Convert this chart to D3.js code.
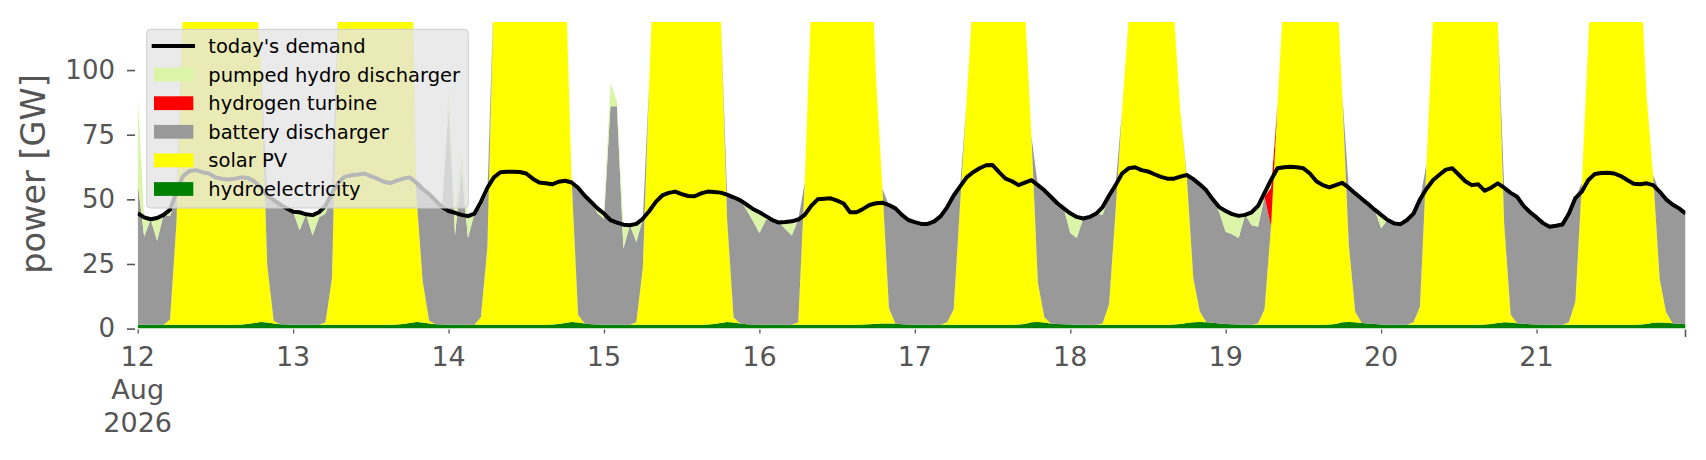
<!DOCTYPE html>
<html><head><meta charset="utf-8">
<script src="https://cdn.jsdelivr.net/npm/d3@7"></script>
<style>
html,body{margin:0;padding:0;background:#fff;}
svg{display:block;font-family:"DejaVu Sans",sans-serif;}
</style></head><body>
<svg id="chart" width="1706" height="460"></svg>
<script>
// hourly values, 12 Aug 2026 00:00 .. 21 Aug 2026 23:00 (one line per day)
const dayLabels = ["12","13","14","15","16","17","18","19","20","21"];
const monthLabel = "Aug", yearLabel = "2026";
const yTicks = [0,25,50,75,100];

const demand = [
44.6,43,42.3,42.8,44,46,53,59,61,61.3,60.5,60,58.5,58,57.7,58,58.5,58.3,57,54.5,51.5,49.7,48,46.5,
45.2,45,44.2,43.9,45,47.5,52.5,56.5,58.8,59.3,59.6,60,59,58,56.8,56.3,57.2,58,58.5,56.5,54,52,49.5,47,
45.5,44.8,44,43.5,44.5,49,54.5,58.5,60.5,60.7,60.7,60.6,60,58,56.5,56.2,55.8,56.8,57.2,56.5,54.5,51.5,49,46.5,
44.5,42,41,40.2,40,40.5,42.5,45.5,49,51.5,52.5,53,52,51.3,51.2,52.3,53,52.8,52.6,51.8,50.8,49.7,48,46.3,
45,43.5,42,41,41.2,41.5,42.2,44,47.5,50,50.2,50.4,49.5,48.4,45,45,46.3,47.8,48.5,48.7,47.8,46.5,44,42,
41.2,40.5,40.5,41.5,43.5,47,51.5,55,58.5,60.5,62,63.2,63.3,60.5,58,57,55.5,56.5,57.4,55.5,53.5,51,48.5,46.5,
44.6,43.2,42.6,43.2,44.5,47,51.5,55.5,60,62,62.4,61.3,60.8,59.7,58.7,58,58,58.8,59.4,57.8,55.8,53.5,50,47,
45.5,44.3,43.6,44,45,47.5,52.5,57.5,62,62.4,62.6,62.4,62,60,57,55.5,54.6,55.5,56.4,54.5,52.3,50.2,48.2,46,
44,42,40.7,40.4,42,44.5,50,54,57.4,59.5,61.5,62,59.5,57,55.5,55.8,53.3,54.5,56.2,54.5,52.5,51,47.5,45,
43,40.8,39.4,39.8,40.3,44.5,50.5,53,57.5,59.8,60.2,60.3,60,59,57.5,56,55.8,56.2,55.5,53,50,48,46.5,44.6
];

const hydro = [
1.5,1.5,1.5,1.5,1.5,1.5,1.5,1.5,1.5,1.5,1.5,1.5,1.5,1.5,1.5,1.5,1.6,1.8,2.2,2.6,2.4,2.0,1.7,1.6,
1.5,1.5,1.5,1.5,1.5,1.5,1.5,1.5,1.5,1.5,1.5,1.5,1.5,1.5,1.5,1.5,1.6,1.8,2.2,2.6,2.4,2.0,1.7,1.6,
1.5,1.5,1.5,1.5,1.5,1.5,1.5,1.5,1.5,1.5,1.5,1.5,1.5,1.5,1.5,1.5,1.6,1.8,2.2,2.6,2.4,2.0,1.7,1.6,
1.5,1.5,1.5,1.5,1.5,1.5,1.5,1.5,1.5,1.5,1.5,1.5,1.5,1.5,1.5,1.5,1.6,1.8,2.2,2.6,2.4,2.0,1.7,1.6,
1.5,1.5,1.5,1.5,1.5,1.5,1.5,1.5,1.5,1.5,1.5,1.5,1.5,1.5,1.5,1.5,1.6,1.7,1.9,2.0,2.0,2.0,1.7,1.6,
1.5,1.5,1.5,1.5,1.5,1.5,1.5,1.5,1.5,1.5,1.5,1.5,1.5,1.5,1.5,1.5,1.6,1.8,2.5,2.6,2.4,2.0,1.8,1.7,
1.6,1.5,1.5,1.5,1.5,1.5,1.5,1.5,1.5,1.5,1.5,1.5,1.5,1.5,1.5,1.5,1.6,1.8,2.2,2.5,2.6,2.5,2.3,2.0,
1.8,1.7,1.6,1.5,1.5,1.5,1.5,1.5,1.5,1.5,1.5,1.5,1.5,1.5,1.5,1.5,1.6,1.8,2.5,2.6,2.5,2.2,2.0,1.8,
1.6,1.5,1.5,1.5,1.5,1.5,1.5,1.5,1.5,1.5,1.5,1.5,1.5,1.5,1.5,1.5,1.6,1.8,2.2,2.5,2.4,2.1,1.9,1.7,
1.6,1.5,1.5,1.5,1.5,1.5,1.5,1.5,1.5,1.5,1.5,1.5,1.5,1.5,1.5,1.5,1.6,1.8,2.3,2.4,2.3,2.1,1.9,1.7
];

const solar = [
0,0,0,0,0,2,40,125,210,255,285,300,305,295,275,245,210,175,140,100,22,1,0,0,
0,0,0,0,0,1,18,125,210,255,285,300,300,290,270,245,235,225,190,50,16,1,0,0,
0,0,0,0,0,3,30,130,215,260,290,305,305,295,275,250,215,180,140,55,3,0,0,0,
0,0,0,0,0,1,22,95,160,230,270,290,295,285,265,235,200,165,122,40,2,0,0,0,
0,0,0,0,0,0,1,55,125,200,250,275,280,270,245,210,185,160,95,52,6,0,0,0,
0,0,0,0,0,1,6,47,87,128,200,245,260,250,225,195,165,122,72,15,2,0,0,0,
0,0,0,0,0,0.5,8,44,83,118,170,215,235,225,195,160,120,82,56,17,4,0,0,0,
0,0,0,0,0,0.5,6,38,85,130,200,260,285,275,250,215,175,140,88,30,4,0,0,0,
0,0,0,0,0,1,7,62,118,180,240,270,280,270,245,215,190,170,118,38,3,0,0,0,
0,0,0,0,0,1,9,55,110,165,225,260,270,255,220,175,140,88,57,17,4,0,0,0
];

const battery = [
55,34,40.8,32.5,42.5,40,9.5,0,0,0,0,0,0,0,0,0,0,0,0,0,27.1,46.7,46.3,44.9,
43.7,36.5,42.7,34.5,41.5,42,32,0,0,0,0,0,0,0,0,0,0,0,0,3.9,35.6,49,47.8,45.4,
84,34.5,60,33.5,43,42.5,21,0,0,0,0,0,0,0,0,0,0,0,0,0,49.1,49.5,47.3,43,
41,84.5,84.5,29.5,38.5,31,19,0,0,0,0,0,0,0,0,0,0,0,0,9.2,46.4,47.7,44.3,40,
35.5,40.5,40.5,39.5,37,34.5,39.7,0,0,0,0,0,0,0,0,0,0,0,0,0,39.8,44.5,42.3,40.4,
39.7,39,39,40,42,44.5,44,6.5,0,0,0,0,0,0,0,0,0,0,0,37.9,49.1,49,46.7,44.8,
35.4,33.5,41.1,41.7,43,42,42,10,0,0,0,0,0,0,0,0,0,0,1.2,38.3,49.2,51,47.7,43,
35.7,34.8,33.4,42.5,38.5,37.4,43.5,0,0,0,0,0,0,0,0,0,0,0,0,21.9,45.8,48,46.2,44.2,
37.2,40.5,39.2,38.9,40.5,42,41.5,0,0,0,0,0,0,0,0,0,0,0,0,14,47.1,48.9,45.6,43.3,
41.4,39.3,37.9,38.3,38.8,42,40,0,0,0,0,0,0,0,0,0,0,0,0,33.6,43.7,45.9,44.6,42.9
];

const hydrogen = [
0,0,0,0,0,0,0,0,0,0,0,0,0,0,0,0,0,0,0,0,0,0,0,0,
0,0,0,0,0,0,0,0,0,0,0,0,0,0,0,0,0,0,0,0,0,0,0,0,
0,0,0,0,0,0,0,0,0,0,0,0,0,0,0,0,0,0,0,0,0,0,0,0,
0,0,0,0,0,0,0,0,0,0,0,0,0,0,0,0,0,0,0,0,0,0,0,0,
0,0,0,0,0,0,0,0,0,0,0,0,0,0,0,0,0,0,0,0,0,0,0,0,
0,0,0,0,0,0,0,0,0,0,0,0,0,0,0,0,0,0,0,0,0,0,0,0,
0,0,0,0,0,0,0,0,0,0,0,0,0,0,0,0,0,0,0,0,0,0,0,0,
0,0,0,0,0,0,0,15,0,0,0,0,0,0,0,0,0,0,0,0,0,0,0,0,
0,0,0,0,0,0,0,0,0,0,0,0,0,0,0,0,0,0,0,0,0,0,0,0,
0,0,0,0,0,0,0,0,0,0,0,0,0,0,0,0,0,0,0,0,0,0,0,0
];

const pumped = [
34,7.5,0,8.8,0,2.5,2,0,0,0,0,0,0,0,0,0,0,0,0,0,0,0,0,0,
0,7,0,7.9,2,3,1,0,0,0,0,0,0,0,0,0,0,0,0,0,0,0,0,0,
7,8.8,7,8.5,0,2,2,0,0,0,0,0,0,0,0,0,0,0,0,0,0,0,0,1.9,
2,9,2,9.2,0,7,0,0,0,0,0,0,0,0,0,0,0,0,0,0,0,0,2,4.7,
8,1.5,0,0,2.7,5.5,0,0,0,0,0,0,0,0,0,0,0,0,0,0,0,0,0,0,
0,0,0,0,0,0,0,0,0,0,0,0,0,0,0,0,0,0,0,0,0,0,0,0,
7.6,8.2,0,0,0,3,0,0,0,0,0,0,0,0,0,0,0,0,0,0,0,0,0,2,
8,7.8,8.6,0,5,8.1,3,3,0,0,0,0,0,0,0,0,0,0,0,0,0,0,0,0,
5.2,0,0,0,0,0,0,0,0,0,0,0,0,0,0,0,0,0,0,0,0,0,0,0,
0,0,0,0,0,0,0,0,0,0,0,0,0,0,0,0,0,0,0,0,0,0,0,0
];

// ---- layout ----
const plot = {left: 137.7, right: 1685.5, top: 22, bottom: 328.6};
const svg = d3.select("#chart");

const t0 = Date.UTC(2026, 7, 12, 0, 0);
const times = demand.map((_, i) => new Date(t0 + i * 3600e3));
const x = d3.scaleUtc().domain([times[0], times[times.length - 1]]).range([plot.left, plot.right]);
const y = d3.scaleLinear().domain([0, 118.6]).range([plot.bottom, plot.top]);

const series = [
  {key: "hydro", label: "hydroelectricity", color: "#008000", values: hydro},
  {key: "solar", label: "solar PV", color: "#ffff00", values: solar},
  {key: "battery", label: "battery discharger", color: "#999999", values: battery},
  {key: "hydrogen", label: "hydrogen turbine", color: "#ff0000", values: hydrogen},
  {key: "pumped", label: "pumped hydro discharger", color: "#daf5a8", values: pumped}
];

const rows = times.map((t, i) => {
  const r = {t};
  series.forEach(s => r[s.key] = s.values[i]);
  return r;
});
const stacked = d3.stack().keys(series.map(s => s.key))(rows);

svg.append("clipPath").attr("id", "clip")
  .append("rect").attr("x", plot.left).attr("y", plot.top)
  .attr("width", plot.right - plot.left).attr("height", plot.bottom - plot.top);

const area = d3.area().x(d => x(d.data.t)).y0(d => y(d[0])).y1(d => y(d[1]));
const gA = svg.append("g").attr("clip-path", "url(#clip)");
stacked.forEach((layer, k) => {
  gA.append("path").attr("d", area(layer)).attr("fill", series[k].color);
});

const line = d3.line().x((d, i) => x(times[i])).y(d => y(d));
gA.append("path").attr("d", line(demand)).attr("fill", "none")
  .attr("stroke", "#000").attr("stroke-width", 4).attr("stroke-linejoin", "round");

// ---- y axis ----
const yAxis = d3.axisLeft(y).tickValues(yTicks).tickSize(8).tickPadding(12);
const gy = svg.append("g").attr("transform", "translate(135,0)").call(yAxis);
gy.select(".domain").remove();
gy.selectAll(".tick line").attr("stroke", "#555").attr("stroke-width", 1.6);
gy.selectAll(".tick text").attr("fill", "#555").style("font-size", "26px")
  .style("font-family", "DejaVu Sans, sans-serif");

svg.append("text").attr("transform", "translate(45,174) rotate(-90)")
  .attr("text-anchor", "middle").attr("fill", "#555").style("font-size", "33.5px")
  .text("power [GW]");

// ---- x axis ----
const dayDates = dayLabels.map((_, i) => new Date(t0 + i * 24 * 3600e3));
const xAxis = d3.axisBottom(x).tickValues(dayDates).tickSize(4).tickFormat("");
const gx = svg.append("g").attr("transform", "translate(0,329.5)").call(xAxis);
gx.select(".domain").remove();
gx.selectAll(".tick line").attr("stroke", "#555").attr("stroke-width", 1.3);
svg.append("line").attr("x1", x(times[times.length - 1])).attr("x2", x(times[times.length - 1]))
  .attr("y1", 329.5).attr("y2", 337).attr("stroke", "#555").attr("stroke-width", 1.6);

const xl = svg.append("g").attr("fill", "#555").style("font-size", "27px").attr("text-anchor", "middle");
dayDates.forEach((d, i) => {
  xl.append("text").attr("x", x(d)).attr("y", 366).text(dayLabels[i]);
});
xl.append("text").attr("x", x(dayDates[0])).attr("y", 399).text(monthLabel);
xl.append("text").attr("x", x(dayDates[0])).attr("y", 432).text(yearLabel);

// ---- legend ----
const lg = svg.append("g");
lg.append("rect").attr("x", 146.7).attr("y", 29.3).attr("width", 321.6).attr("height", 178.7)
  .attr("rx", 4).attr("fill", "#e5e5e5").attr("fill-opacity", 0.8)
  .attr("stroke", "#cccccc").attr("stroke-width", 1);
const legendItems = [{label: "today's demand", type: "line", color: "#000"}]
  .concat(series.slice().reverse().map(s => ({label: s.label, type: "patch", color: s.color})));
legendItems.forEach((it, i) => {
  const cy = 46 + i * 28.6;
  if (it.type === "line") {
    lg.append("line").attr("x1", 151.7).attr("x2", 195).attr("y1", cy).attr("y2", cy)
      .attr("stroke", it.color).attr("stroke-width", 4);
  } else {
    lg.append("rect").attr("x", 154).attr("y", cy - 6.9).attr("width", 39.3).attr("height", 13.8)
      .attr("fill", it.color);
  }
  lg.append("text").attr("x", 208.3).attr("y", cy).attr("dy", "0.36em")
    .attr("fill", "#000").style("font-size", "19.5px").text(it.label);
});
</script>
</body></html>
